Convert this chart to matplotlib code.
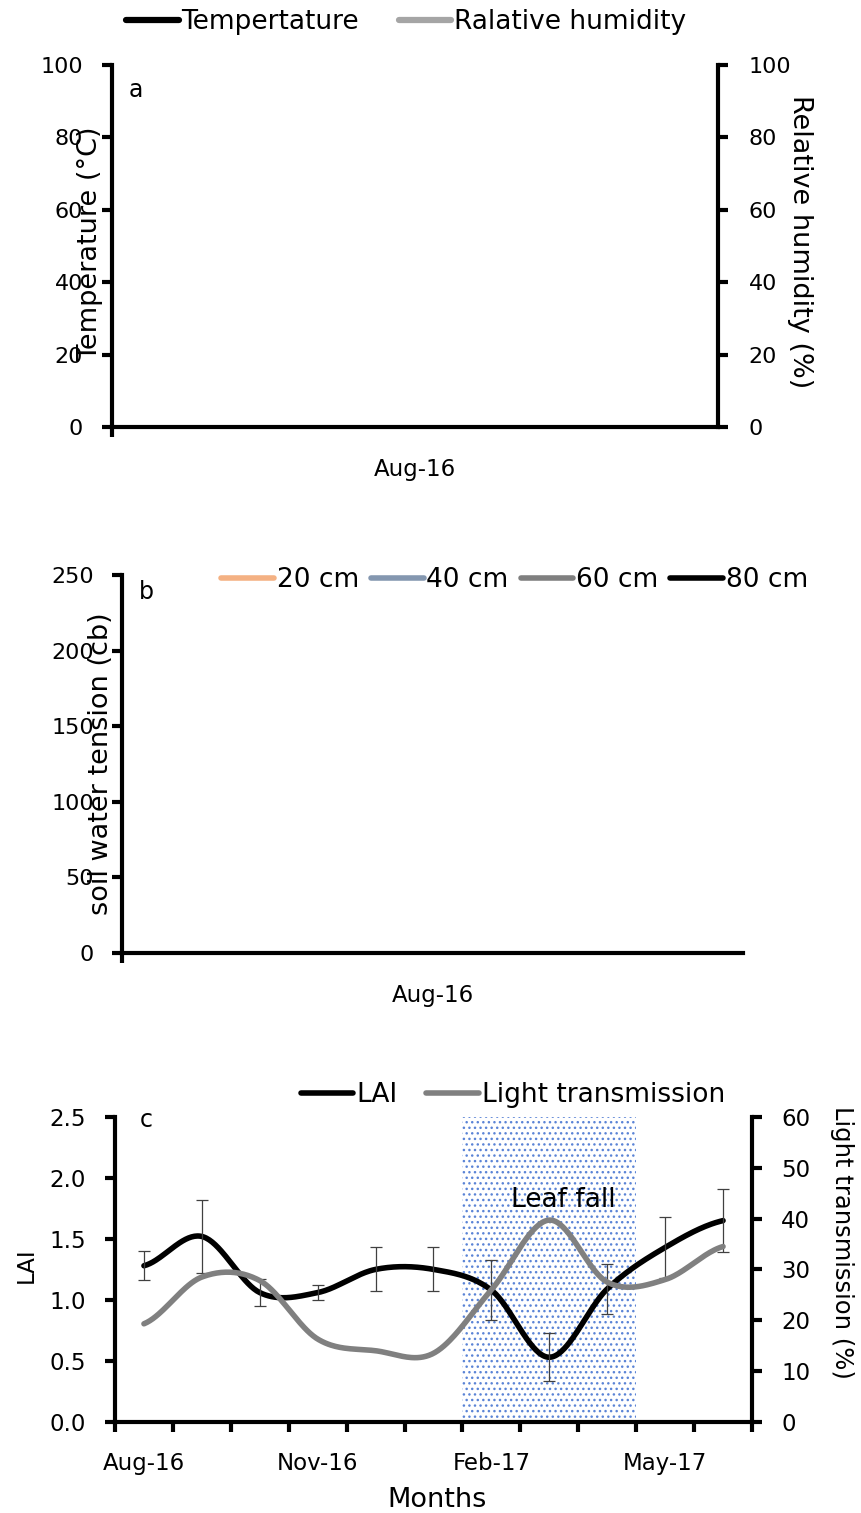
import numpy as np
import matplotlib
matplotlib.use('Agg')
import matplotlib.pyplot as plt

plt.rcParams['font.family'] = ['DejaVu Sans']
plt.rcParams['hatch.linewidth'] = 1.0

# panel a: temperature / relative humidity (no data drawn in the original)
months_a = ['Aug-16']
temperature = []
humidity = []

# panel b: soil water tension by depth (no data drawn in the original)
depths = ['20 cm', '40 cm', '60 cm', '80 cm']
depth_colors = ['#F4B183', '#8497B0', '#7F7F7F', '#000000']
tension = {d: [] for d in depths}

# panel c: LAI and light transmission
months = ['Aug-16', 'Sep-16', 'Oct-16', 'Nov-16', 'Dec-16', 'Jan-17',
          'Feb-17', 'Mar-17', 'Apr-17', 'May-17', 'Jun-17']
lai = [1.28, 1.52, 1.06, 1.06, 1.25, 1.25, 1.08, 0.53, 1.09, 1.43, 1.65]
lai_err = [0.12, 0.30, 0.11, 0.06, 0.18, 0.18, 0.245, 0.195, 0.205, 0.25, 0.255]
light = [19.3, 28.5, 27.8, 16.3, 14.0, 13.5, 26.0, 39.7, 27.5, 28.0, 34.5]
leaf_fall = ('Feb-17', 'Apr-17')


def smooth(y, n=40):
    # Excel-like smoothed line (Catmull-Rom through the points)
    y = np.asarray(y, float)
    xs, ys = [], []
    for i in range(len(y) - 1):
        p0 = y[max(i - 1, 0)]
        p1, p2 = y[i], y[i + 1]
        p3 = y[min(i + 2, len(y) - 1)]
        m1 = (p2 - p0) / 2
        m2 = (p3 - p1) / 2
        t = np.linspace(0, 1, n)
        h00 = 2 * t**3 - 3 * t**2 + 1
        h10 = t**3 - 2 * t**2 + t
        h01 = -2 * t**3 + 3 * t**2
        h11 = t**3 - t**2
        xs.append(i + t)
        ys.append(h00 * p1 + h10 * m1 + h01 * p2 + h11 * m2)
    return np.concatenate(xs), np.concatenate(ys)


def style_axis(ax, sides):
    for s in ['left', 'right', 'top', 'bottom']:
        ax.spines[s].set_visible(s in sides)
        ax.spines[s].set_linewidth(3)


fig = plt.figure(figsize=(8.62, 15.13), dpi=100)

# ---------------- panel a ----------------
ax1 = fig.add_axes([0.130, 0.7178, 0.703, 0.2393])
ax1r = ax1.twinx()
l_t, = ax1.plot(temperature, color='black', lw=4.5, solid_capstyle='round', label='Tempertature')
l_h, = ax1r.plot(humidity, color='#A5A5A5', lw=4.5, solid_capstyle='round', label='Ralative humidity')
ax1.set_xlim(-0.5, len(months_a) - 0.5)
ax1.set_ylim(0, 100)
ax1r.set_ylim(0, 100)
ax1.set_yticks(np.arange(0, 101, 20))
ax1r.set_yticks(np.arange(0, 101, 20))
ax1.set_xticks(range(len(months_a)), months_a)
ax1.set_xticks([-0.5], minor=True)
style_axis(ax1, ['left', 'bottom'])
style_axis(ax1r, ['right'])
ax1.tick_params(axis='y', length=7, width=3, labelsize=16, pad=14)
ax1r.tick_params(axis='y', length=7, width=3, labelsize=16, pad=15)
ax1.tick_params(axis='x', which='major', length=0, labelsize=16.5, pad=22)
ax1.tick_params(axis='x', which='minor', length=7, width=3)
ax1.set_ylabel('Temperature (°C)', fontsize=19.5)
ax1.yaxis.set_label_coords(-0.036, 0.505)
ax1.yaxis.label.set_va('center')
ax1r.set_ylabel('Relative humidity (%)', fontsize=19.5, rotation=270)
ax1r.yaxis.set_label_coords(1.135, 0.511)
ax1r.yaxis.label.set_va('center')
ax1.text(0.04, 0.93, 'a', transform=ax1.transAxes, fontsize=17, ha='center', va='center')
fig.legend([l_t, l_h], ['Tempertature', 'Ralative humidity'], loc='center',
           bbox_to_anchor=(0.471, 0.9855), ncol=2, frameon=False, fontsize=19,
           handlelength=2.0, handletextpad=0.1, columnspacing=1.5)

# ---------------- panel b ----------------
ax2 = fig.add_axes([0.1415, 0.3701, 0.7204, 0.2498])
handles_b = []
for d, c in zip(depths, depth_colors):
    h, = ax2.plot(tension[d], color=c, lw=4, solid_capstyle='round', label=d)
    handles_b.append(h)
ax2.set_xlim(-0.5, len(months_a) - 0.5)
ax2.set_ylim(0, 250)
ax2.set_yticks(np.arange(0, 251, 50))
ax2.set_xticks(range(len(months_a)), months_a)
ax2.set_xticks([-0.5], minor=True)
style_axis(ax2, ['left', 'bottom'])
ax2.tick_params(axis='y', length=7, width=3, labelsize=16, pad=13)
ax2.tick_params(axis='x', which='major', length=0, labelsize=16.5, pad=22)
ax2.tick_params(axis='x', which='minor', length=7, width=3)
ax2.set_ylabel('soil water tension (cb)', fontsize=19.5)
ax2.yaxis.set_label_coords(-0.034, 0.5)
ax2.yaxis.label.set_va('center')
ax2.text(0.04, 0.955, 'b', transform=ax2.transAxes, fontsize=17, ha='center', va='center')
fig.legend(handles_b, depths, loc='center', bbox_to_anchor=(0.597, 0.6167), ncol=4,
           frameon=False, fontsize=19, handlelength=2.0, handletextpad=0.1,
           columnspacing=0.45)

# ---------------- panel c ----------------
ax3 = fig.add_axes([0.1334, 0.0602, 0.739, 0.2016])
ax3r = ax3.twinx()
x = np.arange(len(months))
i0, i1 = months.index(leaf_fall[0]), months.index(leaf_fall[1])
ax3.axvspan(i0 - 0.5, i1 + 0.5, facecolor='white', edgecolor='#5B84D6',
            hatch='...', lw=0, zorder=0)
ax3.text((i0 + i1) / 2 + 0.25, 1.82, 'Leaf fall', fontsize=19, ha='center', va='center')

xs, ys = smooth(lai)
l_lai, = ax3.plot(xs, ys, color='black', lw=4, solid_capstyle='round', zorder=3)
ax3.errorbar(x, lai, yerr=lai_err, fmt='none', ecolor='#404040', elinewidth=0.9,
             capsize=4, capthick=0.9, zorder=4)
xs, ys = smooth(light)
l_lt, = ax3r.plot(xs, ys, color='#808080', lw=4, solid_capstyle='round')

ax3.set_xlim(-0.5, len(months) - 0.5)
ax3.set_ylim(0, 2.5)
ax3r.set_ylim(0, 60)
ax3.set_yticks(np.arange(0, 2.51, 0.5), [f'{v:.1f}' for v in np.arange(0, 2.51, 0.5)])
ax3r.set_yticks(np.arange(0, 61, 10))
ax3.set_xticks(x[::3], months[::3])
ax3.set_xticks(np.arange(-0.5, len(months), 1), minor=True)
style_axis(ax3, ['left', 'bottom'])
style_axis(ax3r, ['right'])
ax3.tick_params(axis='y', length=7, width=3, labelsize=16.5, pad=14)
ax3r.tick_params(axis='y', length=7, width=3, labelsize=16.5, pad=14)
ax3.tick_params(axis='x', which='major', length=0, labelsize=16.5, pad=22)
ax3.tick_params(axis='x', which='minor', length=7, width=3)
ax3.set_ylabel('LAI', fontsize=16.5)
ax3.yaxis.set_label_coords(-0.14, 0.515)
ax3.yaxis.label.set_va('center')
ax3r.set_ylabel('Light transmission (%)', fontsize=17.5, rotation=270)
ax3r.yaxis.set_label_coords(1.141, 0.587)
ax3r.yaxis.label.set_va('center')
ax3.set_xlabel('Months', fontsize=19.5)
ax3.xaxis.set_label_coords(0.505, -0.213)
ax3.text(0.049, 0.99, 'c', transform=ax3.transAxes, fontsize=17, ha='center', va='center')
fig.legend([l_lai, l_lt], ['LAI', 'Light transmission'], loc='center',
           bbox_to_anchor=(0.595, 0.2763), ncol=2, frameon=False, fontsize=19,
           handlelength=2.0, handletextpad=0.1, columnspacing=1.1)

fig.savefig('out.png', dpi=100)
